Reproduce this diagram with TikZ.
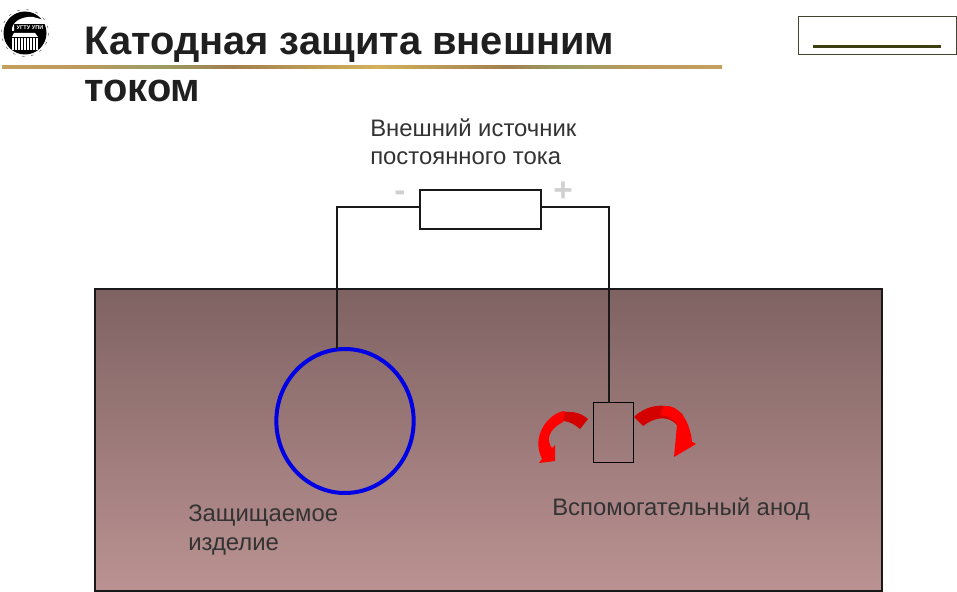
\documentclass[tikz,border=0pt]{standalone}
\usepackage{fontspec}
\setmainfont{Liberation Sans}
\usetikzlibrary{shapes}
\usetikzlibrary{positioning}
\definecolor{soiltop}{HTML}{7F6262}
\definecolor{soilbot}{HTML}{BB9292}
\definecolor{framedark}{HTML}{45452F}
\definecolor{barolive}{HTML}{3E3E14}
\definecolor{signgrey}{HTML}{D0D0D0}
\definecolor{flowdark}{HTML}{D40000}
\definecolor{rulegold}{HTML}{D2B25A}
\definecolor{ruletan}{HTML}{BE9A5C}
\definecolor{rulegreen}{HTML}{9C9C62}
\definecolor{rulebrown}{HTML}{A37F4E}
\pgfdeclarehorizontalshading{goldrule}{100bp}{
color(0bp)=(rulegreen);
color(6bp)=(rulegreen);
color(10bp)=(rulegold);
color(30bp)=(ruletan);
color(36bp)=(rulegreen);
color(41bp)=(rulebrown);
color(51bp)=(rulegold);
color(60bp)=(rulebrown);
color(64bp)=(rulegreen);
color(70bp)=(ruletan);
color(90bp)=(rulegold);
color(97bp)=(rulegold);
color(100bp)=(rulegreen)}
\begin{document}
\begin{tikzpicture}[x=0.75pt,y=-0.75pt,
title/.style={anchor=base west,inner sep=0pt,font=\bfseries\fontsize{29.9}{30}\selectfont,text=black!88},
label/.style={anchor=base west,inner sep=0pt,font=\fontsize{17.9}{18}\selectfont,text=black!80},
wire/.style={draw=black!90,line width=1.6pt},
sign/.style={inner sep=0pt,font=\bfseries\fontsize{25}{25}\selectfont,text=signgrey}
]
\useasboundingbox (0,0) rectangle (957,592);
% heading
\node[title] (head1) at (84,54.5) {Катодная защита внешним};
\node[title] (head2) at (84,102) {током};
\shade[shading=goldrule] (2,66) rectangle (722,69);
\node[draw=framedark,line width=0.9pt,minimum width=118.5pt,minimum height=28.5pt,anchor=north west,inner sep=0pt] (frame) at (798,16) {};
\fill[barolive] (813,45) rectangle (941,48);
% logo
\draw[black!60,line width=0.4pt,dash pattern=on 2pt off 5pt] (25,33) circle [radius=23.5];
\fill[black] (25,33) circle [radius=21.5];
\fill[white] (12,31) .. controls (11,22) and (22,16) .. (33,17) -- (48,21) -- (48,24) -- (14,24) -- (14,31) -- cycle;
\node[inner sep=0pt,text=white,font=\bfseries\fontsize{4.2}{4}\selectfont] (logotext) at (30,27.5) {УГТУ УПИ};
\fill[white] (12,38) rectangle (38,50);
\foreach \i in {14,17,...,35} \fill[black] (\i,38.5) rectangle (\i+1.4,50);
\fill[white] (14,33) -- (35,33) -- (38,37) -- (12,37) -- cycle;
% soil
\fill[top color=soiltop,bottom color=soilbot] (95,289) rectangle (882,591);
\draw[black!90,line width=1.1pt] (95,289) rectangle (882,591);
% source and wires
\node[draw=black!90,line width=1.6pt,fill=white,minimum width=90.75pt,minimum height=29.25pt,inner sep=0pt] (source) at (480.5,209.5) {};
\node[draw=blue!90!black,line width=3pt,ellipse,minimum width=103pt,minimum height=108pt,inner sep=0pt] (product) at (345,421) {};
\node[draw=black,line width=0.9pt,minimum width=30pt,minimum height=44.5pt,inner sep=0pt] (anode) at (613.5,432.5) {};
\coordinate (srcminus) at (420,207);
\coordinate (srcplus) at (541,207);
\coordinate (prodtop) at (337,349);
\coordinate (anodetop) at (609,403);
\draw[wire] (srcminus) -| (prodtop);
\draw[wire] (srcplus) -| (anodetop);
\node[sign] (minus) at (400,196) {-};
\node[sign] (plus) at (563,192) {+};
% texts
\node[label] (srclabel1) at (370,136.5) {Внешний источник};
\node[label] (srclabel2) at (370,164.5) {постоянного тока};
\node[label] (prodlabel1) at (188,521.5) {Защищаемое};
\node[label] (prodlabel2) at (188,550.5) {изделие};
\node[label] (anodelabel) at (552,515.5) {Вспомогательный анод};
% current from the anode
\fill[flowdark] (634,417) .. controls (646,405) and (668,400) .. (683,415) -- (677,425) .. controls (668,415) and (655,417) .. (643,426) -- cycle;
\fill[red] (664,406) .. controls (678,404) and (690,420) .. (692,442) -- (696,444) -- (674,457) -- (677,425) .. controls (674,420) and (668,415) .. (660,415) -- cycle;
\fill[flowdark] (588,419) .. controls (575,408) and (558,410) .. (547,422) -- (550,424) .. controls (560,419) and (570,420) .. (580,429) -- cycle;
\fill[red] (565,411) .. controls (550,412) and (530,435) .. (542,459) -- (539,463) -- (555,461) -- (555,445) -- (552,448) .. controls (546,440) and (548,430) .. (563,422) -- cycle;
\end{tikzpicture}
\end{document}
